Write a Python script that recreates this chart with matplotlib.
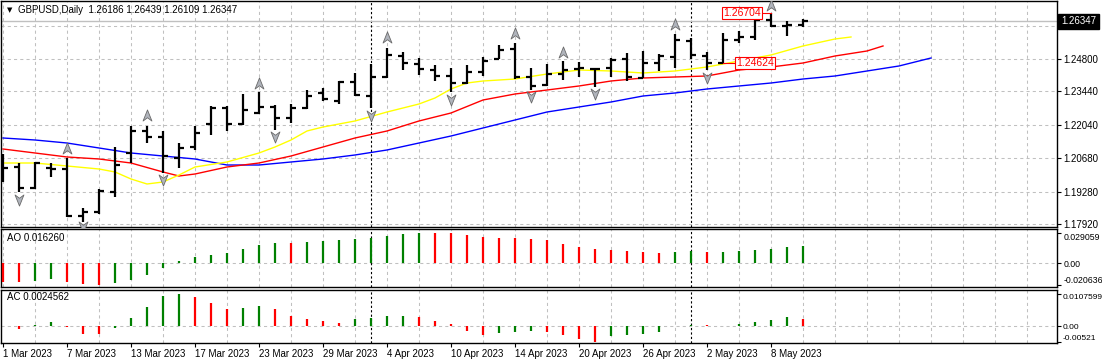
import matplotlib
matplotlib.use("Agg")
import matplotlib.pyplot as plt
import numpy as np
from matplotlib.path import Path
from matplotlib.ticker import FixedLocator
from matplotlib.transforms import blended_transform_factory

plt.rcParams['font.family'] = ['Liberation Sans', 'DejaVu Sans']
plt.rcParams['font.size'] = 7

symbol = "GBPUSD,Daily"

# daily bars, 1 Mar 2023 .. 10 May 2023
opens = [1.20592, 1.20301, 1.19429, 1.20260, 1.20218, 1.18265, 1.18431, 1.19262, 1.20883, 1.21797,
         1.21548, 1.20675, 1.21132, 1.22088, 1.22753, 1.22088, 1.22545, 1.22794, 1.22337, 1.22753,
         1.23376, 1.23043, 1.23833, 1.23251, 1.24041, 1.24913, 1.24581, 1.24331, 1.24082, 1.23791,
         1.24248, 1.24789, 1.25204, 1.24041, 1.23708, 1.24165, 1.24373, 1.24373, 1.24415, 1.24789,
         1.23999, 1.24622, 1.24872, 1.25536, 1.24913, 1.24624, 1.25578, 1.25703, 1.26409, 1.26160,
         1.26186]
highs = [1.20841, 1.20467, 1.20509, 1.20467, 1.20675, 1.18598, 1.19387, 1.21132, 1.22005, 1.22005,
         1.21797, 1.21298, 1.22005, 1.22836, 1.22836, 1.23334, 1.23417, 1.22877, 1.22919, 1.23500,
         1.23584, 1.23874, 1.24207, 1.24581, 1.25246, 1.25079, 1.24830, 1.24539, 1.24415, 1.24539,
         1.24872, 1.25370, 1.25453, 1.24415, 1.24581, 1.24705, 1.24664, 1.24415, 1.24830, 1.25038,
         1.25121, 1.24996, 1.25827, 1.25661, 1.25079, 1.25869, 1.25952, 1.26451, 1.26704, 1.26367,
         1.26439]
lows = [1.19678, 1.19262, 1.19387, 1.19886, 1.18224, 1.18016, 1.18348, 1.19055, 1.20467, 1.21298,
        1.20052, 1.20260, 1.21008, 1.21631, 1.21797, 1.22046, 1.22503, 1.21839, 1.22129, 1.22711,
        1.23043, 1.22919, 1.23251, 1.22753, 1.23999, 1.24331, 1.24124, 1.23874, 1.23417, 1.23750,
        1.24082, 1.24789, 1.23957, 1.23500, 1.23667, 1.23916, 1.24041, 1.23625, 1.24041, 1.23874,
        1.23999, 1.24290, 1.24415, 1.24789, 1.24331, 1.24624, 1.25453, 1.25578, 1.26118, 1.25744,
        1.26109]
closes = [1.20260, 1.19429, 1.20467, 1.20218, 1.18265, 1.18431, 1.19304, 1.20384, 1.21797, 1.21548,
          1.20758, 1.21091, 1.21714, 1.22753, 1.22088, 1.22670, 1.22794, 1.22337, 1.22753, 1.23251,
          1.23127, 1.23833, 1.23293, 1.24041, 1.24955, 1.24622, 1.24373, 1.24082, 1.23791, 1.24248,
          1.24705, 1.25163, 1.24041, 1.23667, 1.24165, 1.24331, 1.24415, 1.24373, 1.24747, 1.24041,
          1.24622, 1.24913, 1.25578, 1.24955, 1.24622, 1.25578, 1.25703, 1.26409, 1.26160, 1.26201,
          1.26347]

date_ticks = [0, 4, 8, 12, 16, 20, 24, 28, 32, 36, 40, 44, 48]
date_labels = ['1 Mar 2023', '7 Mar 2023', '13 Mar 2023', '17 Mar 2023', '23 Mar 2023',
               '29 Mar 2023', '4 Apr 2023', '10 Apr 2023', '14 Apr 2023', '20 Apr 2023',
               '26 Apr 2023', '2 May 2023', '8 May 2023']
month_starts = [23, 43]

# Alligator lines (read at bar positions, shifted forward)
jaw_x = list(range(0, 60, 2))
jaw = [1.21506, 1.21423, 1.21298, 1.21091, 1.20883, 1.20758, 1.20634, 1.20384, 1.20384, 1.20509,
       1.20634, 1.20800, 1.21008, 1.21298, 1.21589, 1.21922, 1.22254, 1.22586, 1.22794, 1.23002,
       1.23251, 1.23376, 1.23542, 1.23667, 1.23791, 1.23957, 1.24082, 1.24290, 1.24498, 1.24830]
teeth_x = [0, 2, 4, 6, 8, 10, 11, 12, 14, 16, 18, 20, 22, 24, 26, 28, 30, 32, 34, 36,
           38, 40, 42, 44, 46, 48, 50, 52, 54, 55]
teeth = [1.21049, 1.20883, 1.20717, 1.20634, 1.20467, 1.20094, 1.19927, 1.20010, 1.20301, 1.20467,
         1.20758, 1.21132, 1.21506, 1.21797, 1.22213, 1.22545, 1.23085, 1.23334, 1.23500, 1.23667,
         1.23874, 1.23999, 1.24041, 1.24082, 1.24331, 1.24456, 1.24622, 1.24913, 1.25121, 1.25329]
lips_x = [0, 2, 4, 6, 7, 8, 9, 10, 11, 12, 14, 16, 17, 18, 19, 20, 22, 24, 26, 27,
          28, 29, 30, 32, 34, 36, 38, 40, 42, 44, 46, 48, 50, 52, 53]
lips = [1.20467, 1.20467, 1.20343, 1.20218, 1.20094, 1.19803, 1.19595, 1.19678, 1.19969, 1.20301,
        1.20509, 1.20883, 1.21132, 1.21423, 1.21797, 1.21963, 1.22213, 1.22586, 1.22919, 1.23168,
        1.23542, 1.23791, 1.23874, 1.23957, 1.24165, 1.24331, 1.24290, 1.24207, 1.24290, 1.24456,
        1.24705, 1.24955, 1.25329, 1.25620, 1.25703]

# fractal arrows
frac_up_x = [4, 9, 16, 24, 32, 35, 42, 48]
frac_up = [1.21091, 1.22462, 1.23791, 1.25703, 1.25869, 1.25079, 1.26243, 1.27032]
frac_dn_x = [1, 5, 10, 17, 23, 28, 33, 37, 44]
frac_dn = [1.18930, 1.17808, 1.19761, 1.21548, 1.22420, 1.23085, 1.23210, 1.23334, 1.23999]

# price labels drawn on chart
hi_label = (48, 1.26704)
lo_label = (45, 1.24624)

price_ticks = [1.26160, 1.24800, 1.23440, 1.22040, 1.20680, 1.19280, 1.17920]

ao = [-0.0174, -0.0174, -0.0167, -0.0152, -0.0174, -0.0196, -0.020636, -0.0183, -0.0158, -0.0111,
      -0.0047, 0.0022, 0.0060, 0.0079, 0.0098, 0.0136, 0.0174, 0.0196, 0.0193, 0.0205,
      0.0215, 0.0218, 0.0231, 0.0243, 0.0259, 0.0278, 0.029059, 0.0288, 0.0285, 0.0269,
      0.0253, 0.0240, 0.0238, 0.0228, 0.0221, 0.0186, 0.0154, 0.0136, 0.0127, 0.0118,
      0.0109, 0.0098, 0.0112, 0.0121, 0.0109, 0.0112, 0.0121, 0.0127, 0.0136, 0.0154,
      0.016260]
ao_dir = "RRGGRRRGGG" "GGGGGGGGRG" "GGGGGGGRRR" "RRRRRRRRRR" "RRGGRGGGGG" "G"
ao_ticks = [0.029059, 0.0, -0.020636]
ao_ticklabels = ['0.029059', '0.00', '-0.020636']

ac = [-0.0001, -0.0009, 0.0003, 0.0013, -0.0003, -0.0025, -0.0026, -0.0005, 0.0026, 0.0064,
      0.0100, 0.0107599, 0.0096, 0.0077, 0.0056, 0.0059, 0.0067, 0.0055, 0.0033, 0.0024,
      0.0017, 0.0011, 0.0022, 0.0026, 0.0032, 0.0035, 0.0029, 0.0016, 0.0006, -0.0016,
      -0.0029, -0.0021, -0.0019, -0.0015, -0.0018, -0.0029, -0.0043, -0.00521, -0.0034, -0.0029,
      -0.0026, -0.0018, 0.0002, 0.0005, 0.0003, 0.0002, 0.0006, 0.0013, 0.0019, 0.0029,
      0.0024562]
ac_dir = "RRGGRRRGGG" "GGRRRGGRRR" "RRGGGGRRRR" "RGGGRRRRGG" "GGGGRRGGGG" "R"
ac_ticks = [0.0107599, 0.0, -0.00521]
ac_ticklabels = ['0.0107599', '0.00', '-0.00521']

# ---- layout (pixel boxes) ----
W, H = 1102, 364
fig = plt.figure(figsize=(W / 100, H / 100), dpi=100)
fig.patch.set_facecolor('white')


def box(x0, y0, x1, y1):
    return [x0 / W, 1 - y1 / H, (x1 - x0) / W, (y1 - y0) / H]


ax = fig.add_axes(box(1, 1, 1057, 226.5))
ax_ao = fig.add_axes(box(1, 229, 1057, 287))
ax_ac = fig.add_axes(box(1, 289.5, 1057, 342.5))

grid_kw = dict(color='#c0c0c0', linestyle=(0, (3, 3)), linewidth=0.75)
idx = np.arange(len(opens))
green, red = '#008000', '#ff0000'

for a in (ax, ax_ao, ax_ac):
    a.set_xlim(-0.125, 65.875)
    a.xaxis.set_minor_locator(FixedLocator(range(0, 66, 2)))
    a.grid(True, which='minor', axis='x', **grid_kw)
    a.tick_params(axis='x', which='minor', length=0)
    a.yaxis.tick_right()
    a.tick_params(axis='y', which='major', direction='out', length=3, width=0.8,
                  pad=1.5, labelsize=7)
    for s in a.spines.values():
        s.set_linewidth(1.0)
        s.set_color('black')
    for m in month_starts:
        a.axvline(m, color='black', linestyle=(0, (2, 2)), linewidth=0.8, zorder=1)
    a.set_axisbelow(True)

# ---- main price panel ----
ax.set_ylim(1.17829, 1.27198)
ax.set_xticks([])
ax.set_yticks(price_ticks)
ax.set_yticklabels([f"{p:.5f}" for p in price_ticks])
ax.grid(True, which='major', axis='y', **grid_kw)

ax.axhline(closes[-1], color='#c0c0c0', linewidth=1.0, zorder=1)

ax.plot(jaw_x, jaw, color='#0000ff', linewidth=1.0, zorder=2)
ax.plot(teeth_x, teeth, color='#ff0000', linewidth=1.0, zorder=2)
ax.plot(lips_x, lips, color='#ffff00', linewidth=1.0, zorder=2)

ax.vlines(idx, lows, highs, color='black', linewidth=1.6, zorder=4)
ax.hlines(opens, idx - 0.32, idx, color='black', linewidth=1.6, zorder=4)
ax.hlines(closes, idx, idx + 0.32, color='black', linewidth=1.6, zorder=4)

up_arrow = Path([(0, 0.5), (0.4, -0.5), (0, -0.2), (-0.4, -0.5), (0, 0.5)],
                [Path.MOVETO, Path.LINETO, Path.LINETO, Path.LINETO, Path.CLOSEPOLY])
dn_arrow = Path([(0, -0.5), (0.4, 0.5), (0, 0.2), (-0.4, 0.5), (0, -0.5)],
                [Path.MOVETO, Path.LINETO, Path.LINETO, Path.LINETO, Path.CLOSEPOLY])
ax.plot(frac_up_x, frac_up, linestyle='none', marker=up_arrow, markersize=8,
        markerfacecolor='#b0b4bc', markeredgecolor='#6a6a6a', markeredgewidth=0.6, zorder=5)
ax.plot(frac_dn_x, frac_dn, linestyle='none', marker=dn_arrow, markersize=8,
        markerfacecolor='#b0b4bc', markeredgecolor='#6a6a6a', markeredgewidth=0.6, zorder=5)

# high / low labels
hx, hy = hi_label
ax.plot([hx - 0.56, hx], [hy, hy], color='red', linewidth=0.8, zorder=5)
ax.text(hx - 0.66, hy, f"{hy:.5f}", ha='right', va='center', color='red', fontsize=7.5,
        bbox=dict(boxstyle='square,pad=0.12', fc='white', ec='red', lw=0.8), zorder=6)
lx, ly = lo_label
ax.plot([lx, lx + 0.7], [ly, ly], color='red', linewidth=0.8, zorder=5)
ax.text(lx + 0.8, ly, f"{ly:.5f}", ha='left', va='center', color='red', fontsize=7.5,
        bbox=dict(boxstyle='square,pad=0.12', fc='white', ec='red', lw=0.8), zorder=6)

# bid box on the price scale
bt = blended_transform_factory(ax.transAxes, ax.transData)
ax.text(1 + 4 / 1056, closes[-1], f"{closes[-1]:.5f}", transform=bt, ha='left', va='center',
        color='white', fontsize=7, clip_on=False, zorder=20,
        bbox=dict(boxstyle='square,pad=0.28', fc='black', ec='black'))

fig.text(7 / W, 1 - 10 / H, "\u25bc", fontsize=5, va='center', ha='left',
         family=['DejaVu Sans'])
fig.text(18 / W, 1 - 10 / H,
         f"{symbol}  {opens[-1]:.5f} {highs[-1]:.5f} {lows[-1]:.5f} {closes[-1]:.5f}",
         va='center', ha='left', fontsize=7)

# ---- AO panel ----
ax_ao.set_ylim(-0.0225, 0.0326)
ax_ao.set_xticks([])
ax_ao.axhline(0, **grid_kw, zorder=0)
ax_ao.vlines(idx, 0, ao, colors=[green if d == 'G' else red for d in ao_dir],
             linewidth=1.6, zorder=3)
ax_ao.set_yticks(ao_ticks)
ax_ao.set_yticklabels(ao_ticklabels)
ax_ao.tick_params(axis='y', labelsize=6.3)
labs = ax_ao.get_yticklabels()
labs[0].set_va('top')
labs[-1].set_va('bottom')
fig.text(7 / W, 1 - 238 / H, f"AO {ao[-1]:.6f}", va='center', ha='left', fontsize=7)

# ---- AC panel ----
ax_ac.set_ylim(-0.0054, 0.0121)
ax_ac.axhline(0, **grid_kw, zorder=0)
ax_ac.vlines(idx, 0, ac, colors=[green if d == 'G' else red for d in ac_dir],
             linewidth=1.6, zorder=3)
ax_ac.set_yticks(ac_ticks)
ax_ac.set_yticklabels(ac_ticklabels)
ax_ac.tick_params(axis='y', labelsize=6.0, pad=1)
labs = ax_ac.get_yticklabels()
labs[0].set_va('top')
labs[-1].set_va('bottom')
fig.text(7 / W, 1 - 297 / H, f"AC {ac[-1]:.7f}", va='center', ha='left', fontsize=7)

ax_ac.set_xticks(date_ticks)
ax_ac.set_xticklabels(date_labels)
ax_ac.tick_params(axis='x', which='major', direction='out', length=3, width=0.8,
                  pad=2, labelsize=7)
for lab in ax_ac.get_xticklabels():
    lab.set_ha('left')

fig.savefig("out.png", dpi=100, facecolor='white')
